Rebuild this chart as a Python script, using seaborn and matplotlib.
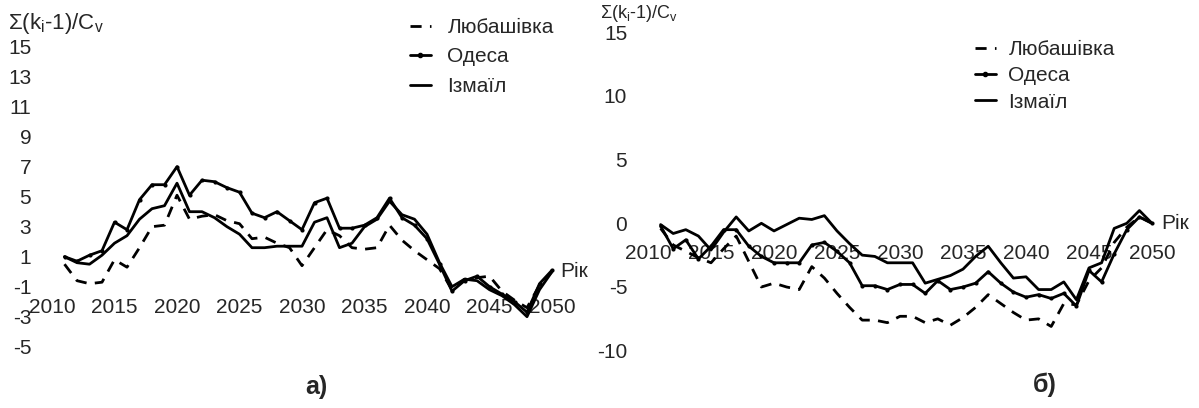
import numpy as np
import pandas as pd
import matplotlib
matplotlib.use("Agg")
import matplotlib.pyplot as plt
import seaborn as sns
from matplotlib.lines import Line2D

# ---------------- data ----------------
years = list(range(2011, 2051))

odesa_a = [1.0, 0.7, 1.1, 1.4, 3.3, 2.8, 4.8, 5.8, 5.8, 7.0,
           5.1, 6.1, 6.0, 5.6, 5.3, 3.9, 3.6, 4.0, 3.4, 2.8,
           4.6, 4.9, 2.9, 2.9, 3.1, 3.6, 4.9, 3.6, 3.1, 2.2,
           0.5, -1.3, -0.6, -0.3, -1.0, -1.5, -2.0, -2.7, -0.8, 0.1]
izmail_a = [1.0, 0.6, 0.5, 1.1, 1.9, 2.4, 3.5, 4.2, 4.4, 5.9,
            4.0, 4.0, 3.6, 3.0, 2.5, 1.6, 1.6, 1.7, 1.7, 1.7,
            3.3, 3.6, 1.6, 1.9, 3.0, 3.5, 4.7, 3.8, 3.5, 2.5,
            0.6, -1.0, -0.5, -0.6, -1.2, -1.6, -2.2, -3.0, -1.2, 0.0]
lyub_a = [0.5, -0.6, -0.8, -0.7, 0.8, 0.3, 1.6, 3.0, 3.1, 5.1,
          3.5, 3.7, 3.8, 3.4, 3.2, 2.2, 2.3, 1.9, 1.6, 0.4,
          1.6, 2.8, 2.4, 1.6, 1.5, 1.6, 3.1, 2.1, 1.4, 0.8,
          0.2, -1.2, -0.5, -0.4, -0.3, -1.3, -1.9, -2.4, -0.9, 0.0]

odesa_b = [-0.2, -2.0, -1.3, -2.8, -1.8, -0.5, -0.5, -1.8, -2.6, -3.1,
           -3.1, -3.1, -1.7, -1.5, -2.2, -3.1, -4.9, -4.9, -5.2, -4.8,
           -4.8, -5.5, -4.5, -5.2, -5.0, -4.7, -3.8, -4.7, -5.4, -5.8,
           -5.6, -5.9, -5.5, -6.5, -3.7, -4.6, -2.4, -0.5, 0.5, 0.0]
izmail_b = [-0.1, -0.8, -0.5, -1.0, -2.1, -0.7, 0.5, -0.6, 0.0, -0.6,
            -0.1, 0.4, 0.3, 0.6, -0.6, -1.6, -2.5, -2.6, -3.1, -3.1,
            -3.1, -4.7, -4.4, -4.1, -3.6, -2.6, -1.8, -3.1, -4.3, -4.2,
            -5.2, -5.2, -4.6, -6.0, -3.5, -3.1, -0.4, 0.0, 1.0, 0.0]
lyub_b = [-0.4, -1.7, -2.2, -2.7, -3.1, -2.0, -1.0, -3.0, -5.0, -4.7,
          -5.0, -5.2, -3.4, -4.3, -5.5, -6.6, -7.6, -7.6, -7.8, -7.3,
          -7.3, -7.8, -7.5, -8.0, -7.4, -6.6, -5.6, -6.3, -7.0, -7.6,
          -7.5, -8.1, -6.3, -6.4, -4.5, -3.5, -1.5, -0.3, 0.5, 0.0]

station_names = ["Любашівка", "Одеса", "Ізмаїл"]
xticks = list(range(2010, 2051, 5))
yticks_a = list(range(-5, 16, 2))
yticks_b = list(range(-10, 16, 5))
ylabel_text = r"Σ(k$_{\mathrm{i}}$-1)/C$_{\mathrm{v}}$"
x_name = "Рік"
panel_labels = ["а)", "б)"]

# ---------------- style ----------------
sns.set_style("white")
plt.rcParams["font.family"] = ["Liberation Sans", "DejaVu Sans"]
plt.rcParams["axes.unicode_minus"] = False
plt.rcParams["mathtext.fontset"] = "custom"
plt.rcParams["mathtext.rm"] = "Liberation Sans"
plt.rcParams["mathtext.it"] = "Liberation Sans"
plt.rcParams["mathtext.bf"] = "Liberation Sans:bold"

W, H = 1199, 408
fig = plt.figure(figsize=(W / 100, H / 100), dpi=100)

def px_axes(x0, x1, y_top, y_bot):
    return fig.add_axes([x0 / W, 1 - y_bot / H, (x1 - x0) / W, (y_bot - y_top) / H])

ax_a = px_axes(52, 552, 46.7, 346.7)
ax_b = px_axes(648, 1152, 32.2, 350.7)

dash_pattern = (0, (4, 3))
styles = {
    "Любашівка": dict(dashed=True, marker=None),
    "Одеса": dict(dashed=False, marker="."),
    "Ізмаїл": dict(dashed=False, marker=None),
}

def draw(ax, series, ylim, yticks, tick_pad_x):
    df = pd.DataFrame({"year": years * 3,
                       "value": series[0] + series[1] + series[2],
                       "station": sum([[n] * len(years) for n in station_names], [])})
    for name in station_names:
        sub = df[df["station"] == name]
        st = styles[name]
        sns.lineplot(data=sub, x="year", y="value", ax=ax, color="black",
                     linewidth=2.0, marker=st["marker"], markersize=6,
                     markeredgewidth=0, legend=False, clip_on=False, zorder=3)
        if st["dashed"]:
            ax.lines[-1].set_linestyle(dash_pattern)
    ax.set_xlim(2010, 2050)
    ax.set_ylim(*ylim)
    ax.set_xticks(xticks)
    ax.set_yticks(yticks)
    ax.set_xlabel("")
    ax.set_ylabel("")
    for s in ["top", "right", "left", "bottom"]:
        ax.spines[s].set_visible(False)
    ax.spines["bottom"].set_position(("data", 0))
    ax.tick_params(axis="x", length=2, width=1, color="#999999", pad=tick_pad_x,
                   labelsize=15, direction="out")
    ax.tick_params(axis="y", length=3, width=1, color="#aaaaaa", pad=12,
                   labelsize=15, direction="out")
    ax.patch.set_alpha(0)
    ax.text(2050.7, 0, x_name, fontsize=15, va="center", ha="left", clip_on=False)

draw(ax_a, [lyub_a, odesa_a, izmail_a], (-5, 15), yticks_a, 17)
draw(ax_b, [lyub_b, odesa_b, izmail_b], (-10, 15), yticks_b, 13)

# legends
def handles():
    return [Line2D([], [], color="black", lw=2, linestyle=dash_pattern),
            Line2D([], [], color="black", lw=2, marker=".", markersize=6),
            Line2D([], [], color="black", lw=2)]

fig.legend(handles(), station_names, loc="upper left",
           bbox_to_anchor=(410 / W, 1 - 18 / H), frameon=False, fontsize=15,
           handlelength=1.0, handletextpad=0.8, labelspacing=0.5, borderpad=0,
           borderaxespad=0)
fig.legend(handles(), station_names, loc="upper left",
           bbox_to_anchor=(975 / W, 1 - 40 / H), frameon=False, fontsize=15,
           handlelength=1.0, handletextpad=0.6, labelspacing=0.35, borderpad=0,
           borderaxespad=0)

# axis titles
fig.text(8 / W, 1 - 24 / H, ylabel_text, fontsize=16, ha="left", va="center")
fig.text(600 / W, 1 - 13 / H, ylabel_text, fontsize=13, ha="left", va="center")

# panel labels
fig.text(316 / W, 1 - 387 / H, panel_labels[0], fontsize=18, fontweight="bold",
         ha="center", va="center")
fig.text(1045 / W, 1 - 385 / H, panel_labels[1], fontsize=18, fontweight="bold",
         ha="center", va="center")

fig.savefig("out.png", dpi=100)
